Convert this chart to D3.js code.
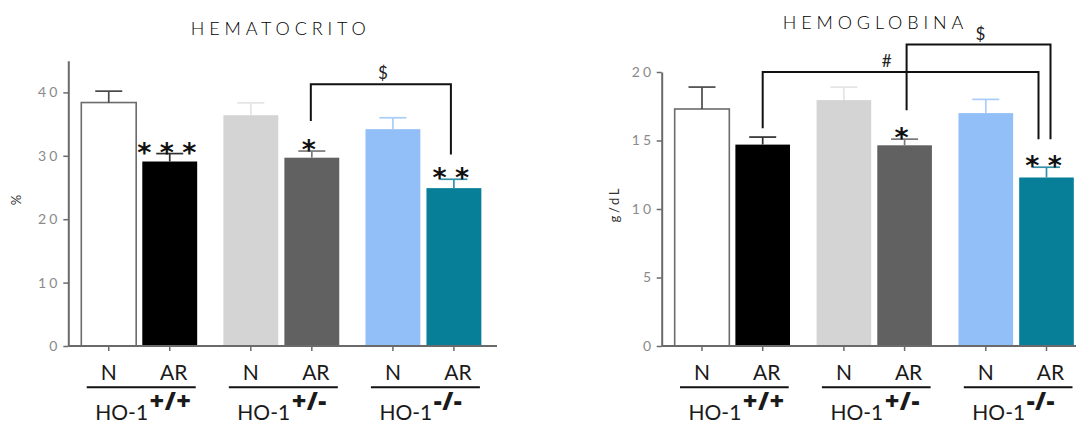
<!DOCTYPE html>
<html>
<head>
<meta charset="utf-8">
<script src="https://cdn.jsdelivr.net/npm/d3@7"></script>
<style>
  body { margin: 0; background: #fff; }
  svg { display: block; font-family: Lato, "Open Sans", sans-serif; }
</style>
</head>
<body>
<svg id="chart" width="1076" height="423"></svg>
<script>
// Genotype groups and conditions
const genotypes = ["+/+", "+/-", "-/-"];
const conditions = ["N", "AR"];

// Hematocrit (%), mean and SEM, ordered N/AR for each genotype
const hematocritoMean = [38.4, 29.1, 36.4, 29.7, 34.2, 24.9];
const hematocritoSem  = [1.8, 1.25, 1.95, 1.05, 1.8, 1.4];
const hematocritoTicks = [0, 10, 20, 30, 40];
const hematocritoStars = ["", "***", "", "*", "", "**"];
const hematocritoBrackets = [
  { from: 3, to: 5, label: "$", top: 41.3, fromEnd: 35.5, toEnd: 30.2 }
];

// Hemoglobin (g/dL)
const hemoglobinaMean = [17.3, 14.7, 17.95, 14.65, 17.0, 12.3];
const hemoglobinaSem  = [1.6, 0.55, 0.95, 0.45, 1.0, 0.75];
const hemoglobinaTicks = [0, 5, 10, 15, 20];
const hemoglobinaStars = ["", "", "", "*", "", "**"];
const hemoglobinaBrackets = [
  { from: 1, to: 5, label: "#", top: 20.0, fromEnd: 15.9, toEnd: 15.1 },
  { from: 3, to: 5, label: "$", top: 22.0, fromEnd: 17.2, toEnd: 15.1 }
];

// Bar styling, one entry per bar
const barFill   = ["#ffffff", "#000000", "#d4d4d4", "#616161", "#92bff8", "#087f99"];
const barStroke = ["#6b6b6b", "none", "none", "none", "none", "none"];
const errColor  = ["#4a4a4a", "#2e2e2e", "#e4e4e4", "#7a7a7a", "#a9cdf9", "#3390a8"];

const svg = d3.select("#chart");

const panels = [
  {
    title: "HEMATOCRITO", titleX: 278.3, titleY: 35, titleLen: 175,
    unit: "%", unitX: 16, unitY: 200, unitLen: null,
    mean: hematocritoMean, sem: hematocritoSem, ticks: hematocritoTicks,
    stars: hematocritoStars, brackets: hematocritoBrackets,
    yDomain: [0, 45], yRange: [346, 60.7],
    axisX: 68.3, axisEnd: 497, tickPad: 3,
    groupRange: [78.25, 484.4], groupPad: 0.1415,
    bracketNudge: [[-1, -3, 2]]
  },
  {
    title: "HEMOGLOBINA", titleX: 873, titleY: 29, titleLen: 180.6,
    unit: "g/dL", unitX: 613.5, unitY: 205.5, unitLen: 34,
    mean: hemoglobinaMean, sem: hemoglobinaSem, ticks: hemoglobinaTicks,
    stars: hemoglobinaStars, brackets: hemoglobinaBrackets,
    yDomain: [0, 20], yRange: [346, 72],
    axisX: 661.7, axisEnd: 1076, tickPad: 2.7,
    groupRange: [671.65, 1076.85], groupPad: 0.1445,
    bracketNudge: [[0, -8, -14], [2, 4, 2]]
  }
];

panels.forEach(p => {
  const g = svg.append("g");

  const y = d3.scaleLinear().domain(p.yDomain).range(p.yRange);
  const xg = d3.scaleBand().domain(genotypes).range(p.groupRange)
    .paddingInner(p.groupPad).paddingOuter(0);
  const xc = d3.scaleBand().domain(conditions).range([0, xg.bandwidth()])
    .paddingInner(0.1).paddingOuter(0.05);

  const bars = p.mean.map((m, i) => {
    const gk = genotypes[Math.floor(i / 2)];
    const ck = conditions[i % 2];
    const x0 = xg(gk) + xc(ck);
    return { i, gk, ck, mean: m, sem: p.sem[i], x0, w: xc.bandwidth(), cx: x0 + xc.bandwidth() / 2 };
  });

  // Title
  g.append("text")
    .attr("x", p.titleX).attr("y", p.titleY)
    .attr("text-anchor", "middle")
    .attr("textLength", p.titleLen).attr("lengthAdjust", "spacing")
    .attr("font-size", 18).attr("font-weight", 300).attr("fill", "#000")
    .text(p.title);

  // Unit label
  const ut = g.append("text")
    .attr("transform", `translate(${p.unitX},${p.unitY}) rotate(-90)`)
    .attr("text-anchor", "middle").attr("dominant-baseline", "central")
    .attr("font-size", 13).attr("fill", "#333")
    .text(p.unit);
  if (p.unitLen) ut.attr("textLength", p.unitLen).attr("lengthAdjust", "spacing");

  // Bars
  g.selectAll("rect.bar").data(bars).join("rect")
    .attr("class", "bar")
    .attr("x", d => d.x0).attr("width", d => d.w)
    .attr("y", d => y(d.mean)).attr("height", d => y(0) - y(d.mean))
    .attr("fill", d => barFill[d.i])
    .attr("stroke", d => barStroke[d.i]).attr("stroke-width", 1.6);

  // Error bars (upper)
  const eb = g.selectAll("g.err").data(bars).join("g").attr("class", "err")
    .attr("stroke", d => errColor[d.i]).attr("stroke-width", 1.7);
  eb.append("line")
    .attr("x1", d => d.cx).attr("x2", d => d.cx)
    .attr("y1", d => y(d.mean)).attr("y2", d => y(d.mean + d.sem));
  eb.append("line")
    .attr("x1", d => d.cx - 13.5).attr("x2", d => d.cx + 13.5)
    .attr("y1", d => y(d.mean + d.sem)).attr("y2", d => y(d.mean + d.sem));

  // Y axis
  const yAxis = d3.axisLeft(y).tickValues(p.ticks).tickSize(5).tickSizeOuter(0).tickPadding(p.tickPad);
  const ya = g.append("g").attr("transform", `translate(${p.axisX},0)`).call(yAxis);
  ya.select(".domain").attr("stroke", "#6a6a6a").attr("stroke-width", 2);
  ya.selectAll(".tick line").attr("stroke", "#6a6a6a").attr("stroke-width", 1.5);
  ya.selectAll(".tick text")
    .attr("font-family", "Lato, 'Open Sans', sans-serif")
    .attr("font-size", 14).attr("fill", "#8a8a8a")
    .attr("letter-spacing", 3);

  // X axis baseline with ticks under each bar
  g.append("line")
    .attr("x1", p.axisX).attr("x2", p.axisEnd)
    .attr("y1", y(0)).attr("y2", y(0))
    .attr("stroke", "#6a6a6a").attr("stroke-width", 2);
  g.selectAll("line.xtick").data(bars).join("line")
    .attr("class", "xtick")
    .attr("x1", d => d.cx).attr("x2", d => d.cx)
    .attr("y1", y(0)).attr("y2", y(0) + 5)
    .attr("stroke", "#6a6a6a").attr("stroke-width", 1.5);

  // Condition labels
  g.selectAll("text.cond").data(bars).join("text")
    .attr("class", "cond")
    .attr("x", d => d.cx + (d.ck === "AR" ? 4 : 0)).attr("y", 380)
    .attr("text-anchor", "middle")
    .attr("font-size", 21).attr("fill", "#1a1a1a")
    .text(d => d.ck);

  // Genotype underline and label
  genotypes.forEach((gk, gi) => {
    const c1 = bars[gi * 2].cx, c2 = bars[gi * 2 + 1].cx;
    g.append("line")
      .attr("x1", c1 - 22).attr("x2", c2 + 26)
      .attr("y1", 387.3).attr("y2", 387.3)
      .attr("stroke", "#111").attr("stroke-width", 2);
    const t = g.append("text")
      .attr("x", c1 - 13.5).attr("y", 420)
      .attr("font-size", 21).attr("fill", "#1a1a1a");
    t.append("tspan").text("HO-1");
    t.append("tspan").attr("dy", -10).attr("dx", 1.5)
      .attr("font-family", "'Open Sans', 'DejaVu Sans', sans-serif")
      .attr("font-weight", 800).attr("font-size", 25)
      .attr("letter-spacing", 0.5)
      .text(gk);
  });

  // Significance stars above the error bars
  bars.forEach(d => {
    const s = p.stars[d.i];
    if (!s) return;
    const n = s.length;
    const cy = y(d.mean + d.sem) - 7;
    for (let k = 0; k < n; k++) {
      g.append("text")
        .attr("x", d.cx - 3 + (k - (n - 1) / 2) * 22.5)
        .attr("y", cy + 15)
        .attr("text-anchor", "middle")
        .attr("font-family", "'DejaVu Sans', sans-serif")
        .attr("font-weight", "bold")
        .attr("font-size", 27).attr("fill", "#111")
        .text("*");
    }
  });

  // Comparison brackets
  p.brackets.forEach((b, bi) => {
    const [n1, n2, nl] = p.bracketNudge[bi];
    const xa = bars[b.from].cx + n1, xb = bars[b.to].cx + n2;
    g.append("path")
      .attr("d", `M${xa},${y(b.fromEnd)}V${y(b.top)}H${xb}V${y(b.toEnd)}`)
      .attr("fill", "none").attr("stroke", "#111").attr("stroke-width", 2);
    g.append("text")
      .attr("x", (xa + xb) / 2 + nl).attr("y", y(b.top) - 5)
      .attr("text-anchor", "middle")
      .attr("font-size", 17).attr("fill", "#222")
      .text(b.label);
  });
});
</script>
</body>
</html>
